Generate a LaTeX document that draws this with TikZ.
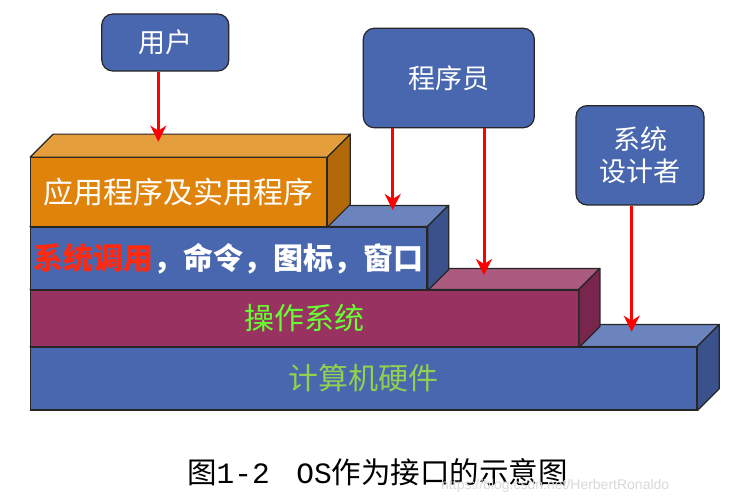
\documentclass[tikz,border=0pt]{standalone}
\usepackage{fontspec}
\setmainfont{Noto Sans CJK SC}
\newfontfamily\latinmono{Liberation Mono}
\newfontfamily\markfont{Liberation Sans}
\usepackage{tikz}
\usetikzlibrary{arrows.meta}

\definecolor{boxblue}{HTML}{4967AE}
\definecolor{bluetop}{HTML}{6B84BE}
\definecolor{blueside}{HTML}{3A518C}
\definecolor{appfront}{HTML}{E0830A}
\definecolor{apptop}{HTML}{E59E3C}
\definecolor{appside}{HTML}{B06808}
\definecolor{osfront}{HTML}{983260}
\definecolor{ostop}{HTML}{AB5A80}
\definecolor{osside}{HTML}{78264E}
\definecolor{callred}{HTML}{FF2A10}
\definecolor{osgreen}{HTML}{66FF33}
\definecolor{hwgreen}{HTML}{92D050}

\begin{document}
\begin{tikzpicture}[
    x=1pt, y=-1pt,
    layer/.style={rectangle, draw=black!85, line width=1.2pt, inner sep=0pt, font=\fontsize{30}{32}\selectfont},
    face/.style={draw=black!85, line width=1.2pt, line join=round},
    user/.style={rectangle, rounded corners=11pt, draw=black!85, line width=1.2pt, fill=boxblue, text=white, inner sep=0pt, align=center, font=\fontsize{27}{32}\selectfont},
    arrow/.style={-{Stealth[length=16pt, width=16pt, inset=5pt]}, red, line width=3pt}
]
    \useasboundingbox[fill=white] (0,0) rectangle (730,503);

    % Hardware
    \node[layer, fill=boxblue, text=hwgreen, minimum width=666pt, minimum height=63pt] (hw) at (363.7,378.5) {计算机硬件};
    \path[face, fill=bluetop] (hw.north west) -- ([shift={(22,-22)}]hw.north west) -- ([shift={(22,-22)}]hw.north east) -- (hw.north east) -- cycle;
    \path[face, fill=blueside] (hw.north east) -- ([shift={(22,-22)}]hw.north east) -- ([shift={(22,-22)}]hw.south east) -- (hw.south east) -- cycle;

    % Operating system
    \node[layer, fill=osfront, text=osgreen, minimum width=547.6pt, minimum height=57pt] (os) at (304.5,318.5) {操作系统};
    \path[face, fill=ostop] (os.north west) -- ([shift={(21,-21)}]os.north west) -- ([shift={(21,-21)}]os.north east) -- (os.north east) -- cycle;
    \path[face, fill=osside] (os.north east) -- ([shift={(21,-21)}]os.north east) -- ([shift={(21,-21)}]os.south east) -- (os.south east) -- cycle;

    % System calls
    \node[layer, fill=boxblue, text=white, minimum width=396.5pt, minimum height=63pt] (sys) at (228.8,258.5) {\bfseries\textcolor{callred}{系统调用}，命令，图标，窗口};
    \path[face, fill=bluetop] (sys.north west) -- ([shift={(21,-21)}]sys.north west) -- ([shift={(21,-21)}]sys.north east) -- (sys.north east) -- cycle;
    \path[face, fill=blueside] (sys.north east) -- ([shift={(21,-21)}]sys.north east) -- ([shift={(21,-21)}]sys.south east) -- (sys.south east) -- cycle;

    % Applications
    \node[layer, fill=appfront, text=white, minimum width=296pt, minimum height=69pt] (app) at (178.7,192.2) {应用程序及实用程序};
    \path[face, fill=apptop] (app.north west) -- ([shift={(23,-23)}]app.north west) -- ([shift={(23,-23)}]app.north east) -- (app.north east) -- cycle;
    \path[face, fill=appside] (app.north east) -- ([shift={(23,-23)}]app.north east) -- ([shift={(23,-23)}]app.south east) -- (app.south east) -- cycle;

    % Users of the system
    \node[user, minimum width=127pt, minimum height=57pt] (usr) at (165.3,42.5) {用户};
    \node[user, minimum width=171pt, minimum height=99.5pt] (prog) at (448.8,78) {程序员};
    \node[user, minimum width=128pt, minimum height=99.3pt] (dsgn) at (640,155.3) {系统\\设计者};

    % Arrows
    \coordinate (usrTip) at (158.3,141.7);
    \coordinate (progTipA) at (392.7,210);
    \coordinate (progTipB) at (484,275);
    \coordinate (dsgnTip) at (631.7,331.7);
    \draw[arrow] (usr.south -| usrTip) -- (usrTip);
    \draw[arrow] (prog.south -| progTipA) -- (progTipA);
    \draw[arrow] (prog.south -| progTipB) -- (progTipB);
    \draw[arrow] (dsgn.south -| dsgnTip) -- (dsgnTip);

    % Caption
    \node[font=\fontsize{29.5}{32}\selectfont] (caption) at (377.5,472) {图{\latinmono 1-2}\hspace{0.9em}{\latinmono OS}作为接口的示意图};
    \node[anchor=west, text=gray!30, font=\markfont\fontsize{14}{16}\selectfont, inner sep=0pt] (mark) at (441,486) {https://blog.csdn.net/HerbertRonaldo};
\end{tikzpicture}
\end{document}
